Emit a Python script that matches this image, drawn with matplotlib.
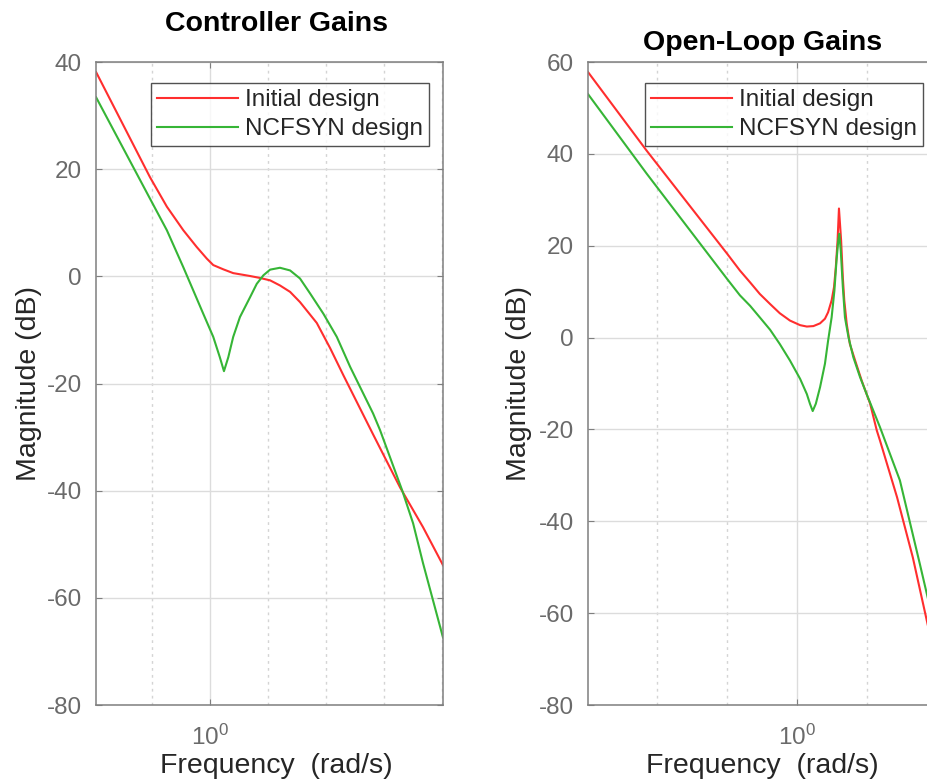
import numpy as np
import matplotlib
matplotlib.use('Agg')
import matplotlib.pyplot as plt
from matplotlib.ticker import FixedLocator, NullFormatter

plt.rcParams['font.family'] = ['Liberation Sans', 'DejaVu Sans']
plt.rcParams['mathtext.fontset'] = 'custom'
plt.rcParams['mathtext.rm'] = 'Liberation Sans'
plt.rcParams['mathtext.it'] = 'Liberation Sans:italic'
plt.rcParams['axes.unicode_minus'] = False

# controller gains (left panel), frequency in rad/s, magnitude in dB
ctrl_w_init = [0.405, 0.621, 0.710, 0.809, 0.899, 0.975, 1.026, 1.112, 1.202, 1.374,
               1.486, 1.611, 1.742, 1.888, 2.042, 2.333, 2.594, 2.884, 3.648, 4.519,
               5.420, 6.353]
ctrl_db_init = [38.1, 18.5, 13.0, 8.6, 5.5, 3.3, 2.1, 1.3, 0.6, 0.06,
                -0.3, -0.75, -1.7, -2.9, -4.8, -8.7, -13.4, -18.5, -29.5, -39.4,
                -46.8, -53.9]
ctrl_w_ncf = [0.405, 0.621, 0.710, 0.809, 0.875, 0.948, 1.026, 1.081, 1.117, 1.156,
              1.202, 1.268, 1.374, 1.449, 1.528, 1.611, 1.742, 1.888, 2.042, 2.213,
              2.460, 2.735, 3.041, 3.648, 3.855, 4.592, 5.012, 5.420, 6.353]
ctrl_db_ncf = [33.4, 14.5, 8.6, 1.7, -2.6, -7.0, -11.3, -15.1, -17.7, -15.1,
               -11.3, -7.6, -3.9, -1.4, 0.2, 1.25, 1.6, 1.1, -0.4, -3.2,
               -7.0, -11.3, -16.9, -25.6, -28.7, -39.9, -46.1, -53.5, -67.4]

# open-loop gains (right panel)
ol_w_init = [0.253, 0.372, 0.631, 0.687, 0.735, 0.783, 0.838, 0.893, 0.955, 1.021,
             1.067, 1.114, 1.164, 1.202, 1.227, 1.256, 1.276, 1.291, 1.306, 1.318,
             1.337, 1.352, 1.365, 1.387, 1.416, 1.466, 1.531, 1.618, 1.690, 1.726,
             1.932, 2.143, 2.366, 2.512]
ol_db_init = [57.8, 40.7, 18.3, 14.6, 12.0, 9.5, 7.3, 5.3, 3.7, 2.7,
              2.4, 2.5, 3.1, 4.1, 5.5, 8.1, 11.0, 15.3, 21.1, 28.1,
              21.1, 13.1, 8.1, 3.0, -1.4, -5.0, -9.4, -14.4, -20.2, -22.4,
              -34.8, -47.9, -62.7, -70.0]
ol_w_ncf = [0.253, 0.372, 0.631, 0.687, 0.735, 0.783, 0.838, 0.893, 0.955, 1.021,
            1.067, 1.089, 1.109, 1.132, 1.164, 1.202, 1.227, 1.256, 1.279, 1.297,
            1.312, 1.321, 1.334, 1.352, 1.371, 1.403, 1.449, 1.514, 1.581, 1.652,
            1.726, 1.968, 2.244, 2.366, 2.512]
ol_db_ncf = [53.0, 35.7, 12.8, 9.2, 6.9, 4.4, 1.7, -1.4, -5.0, -9.0,
             -12.3, -14.4, -16.0, -14.4, -10.8, -5.7, -0.7, 4.4, 10.2, 16.8,
             21.1, 22.6, 18.9, 11.0, 4.4, 0.1, -4.3, -8.6, -12.3, -15.9,
             -19.5, -31.1, -49.3, -56.8, -64.0]

labels = ['Initial design', 'NCFSYN design']
red = '#ff2e2e'
green = '#36b536'
spine_col = '#7f7f7f'

fig = plt.figure(figsize=(9.28, 7.83), dpi=100)
W, H = 928, 783


def make_ax(x0, x1, y0, y1):
    return fig.add_axes([x0 / W, 1 - y1 / H, (x1 - x0) / W, (y1 - y0) / H])


def style(ax, xlim, ylim, title, title_pad, title_x, ylab_x):
    ax.set_xscale('log')
    ax.set_xlim(*xlim)
    ax.set_ylim(*ylim)
    ax.set_yticks(np.arange(ylim[0], ylim[1] + 1, 20))
    ax.xaxis.set_major_locator(FixedLocator([1.0]))
    ax.set_xticklabels([r'$\mathregular{10^0}$'])
    ax.xaxis.set_minor_locator(FixedLocator([10 ** (0.2 * k) for k in range(-5, 6) if k != 0]))
    ax.xaxis.set_minor_formatter(NullFormatter())
    ax.grid(True, which='major', color='#dcdcdc', linewidth=1.0)
    ax.grid(True, which='minor', axis='x', color='#d4d4d4', linestyle=(0, (2, 3)), linewidth=1.0)
    ax.set_axisbelow(True)
    for s in ax.spines.values():
        s.set_color(spine_col)
        s.set_linewidth(1.1)
    ax.tick_params(which='both', direction='in', top=True, right=True, color=spine_col,
                   labelcolor='#6a6a6a', labelsize=17.5, pad=10)
    ax.tick_params(which='major', length=4)
    ax.tick_params(which='minor', length=0)
    ax.tick_params(axis='x', pad=14)
    ax.set_xlabel('Frequency  (rad/s)', fontsize=20.5, color='#262626')
    ax.set_ylabel('Magnitude (dB)', fontsize=20.5, color='#262626')
    ax.set_title(title, fontsize=20.5, fontweight='bold', pad=title_pad, x=title_x)
    ax.xaxis.set_label_coords(title_x, -0.074)
    ax.yaxis.set_label_coords(ylab_x, 0.5)
    leg = ax.legend(loc='upper right', bbox_to_anchor=(1 - 14 / ax.bbox.width, 1 - 21 / ax.bbox.height),
                    fontsize=17.5, frameon=True, fancybox=False, borderpad=0.25,
                    handlelength=3.3, handletextpad=0.3, labelspacing=0.3, borderaxespad=0)
    leg.get_frame().set_edgecolor('#262626')
    leg.get_frame().set_linewidth(1.0)
    for t in leg.get_texts():
        t.set_color('#262626')


ax1 = make_ax(96, 443, 62, 705)
ax1.plot(ctrl_w_init, ctrl_db_init, color=red, linewidth=1.5, label=labels[0])
ax1.plot(ctrl_w_ncf, ctrl_db_ncf, color=green, linewidth=1.5, label=labels[1])
style(ax1, (10 ** -0.393, 10 ** 0.803), (-80, 40), 'Controller Gains', 22, 0.519, -0.156)

ax2 = make_ax(588, 937, 62, 705)
ax2.plot(ol_w_init, ol_db_init, color=red, linewidth=1.5, label=labels[0])
ax2.plot(ol_w_ncf, ol_db_ncf, color=green, linewidth=1.5, label=labels[1])
style(ax2, (10 ** -0.597, 10 ** 0.40), (-80, 60), 'Open-Loop Gains', 9, 0.5, -0.16)

fig.savefig('out.png', dpi=100)
